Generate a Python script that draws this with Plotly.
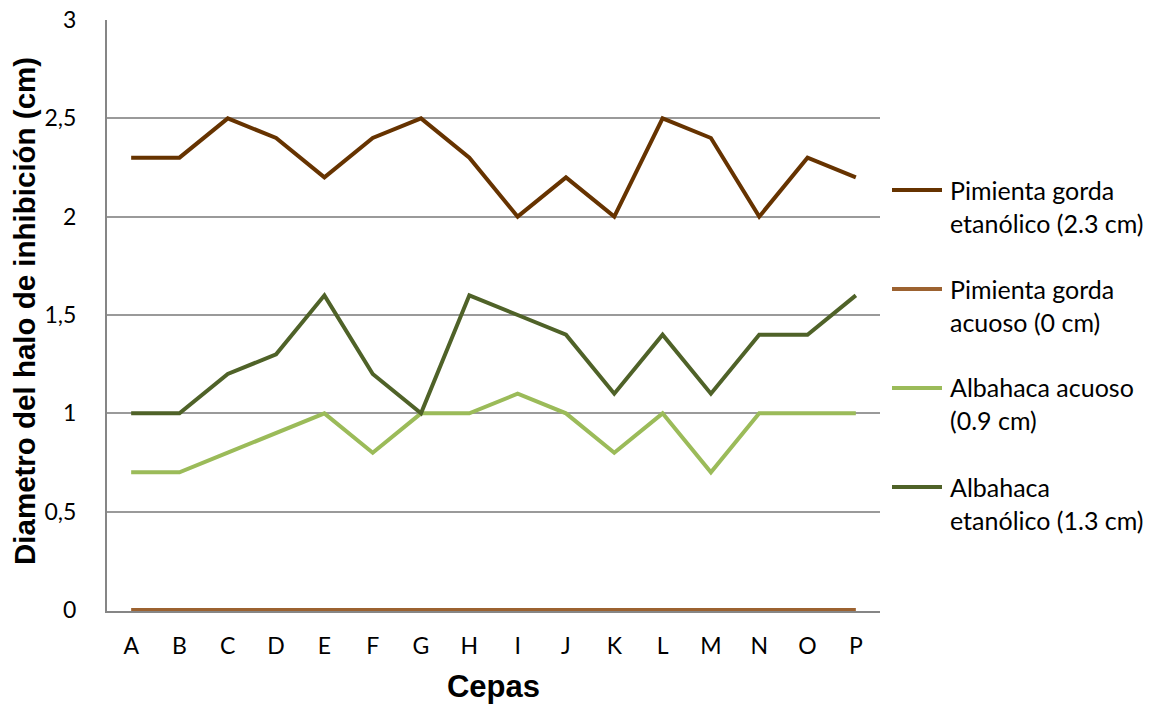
import plotly.graph_objects as go

cepas = list("ABCDEFGHIJKLMNOP")

pimienta_etanolico = [2.3, 2.3, 2.5, 2.4, 2.2, 2.4, 2.5, 2.3, 2.0, 2.2, 2.0, 2.5, 2.4, 2.0, 2.3, 2.2]
pimienta_acuoso = [0] * 16
albahaca_acuoso = [0.7, 0.7, 0.8, 0.9, 1.0, 0.8, 1.0, 1.0, 1.1, 1.0, 0.8, 1.0, 0.7, 1.0, 1.0, 1.0]
albahaca_etanolico = [1.0, 1.0, 1.2, 1.3, 1.6, 1.2, 1.0, 1.6, 1.5, 1.4, 1.1, 1.4, 1.1, 1.4, 1.4, 1.6]

series_names = [
    "Pimienta gorda<br>etanólico (2.3 cm)",
    "Pimienta gorda<br>acuoso (0 cm)",
    "Albahaca acuoso<br>(0.9 cm)",
    "Albahaca<br>etanólico (1.3 cm)",
]
series_values = [pimienta_etanolico, pimienta_acuoso, albahaca_acuoso, albahaca_etanolico]
series_colors = ["#663300", "#9C6230", "#9BBB59", "#4F6228"]

y_ticks = [0, 0.5, 1, 1.5, 2, 2.5, 3]
y_tick_text = ["0", "0,5", "1", "1,5", "2", "2,5", "3"]

W, H = 1149, 705
ML, MR, MT, MB = 107, 269, 20, 94
PW, PH = W - ML - MR, H - MT - MB
Y_MIN = -0.005  # small pad under zero so the zero-valued line is not clipped
Y_MAX = 3


def px_to_paper(xp, yp):
    return (xp - ML) / PW, (H - MB - yp) / PH


font_body = "Lato, 'Open Sans', sans-serif"
font_title = "Arial, 'Liberation Sans', sans-serif"

fig = go.Figure()
for name, vals, color in zip(series_names, series_values, series_colors):
    fig.add_trace(go.Scatter(
        x=cepas, y=vals, name=name, mode="lines",
        line=dict(color=color, width=4),
        cliponaxis=False, showlegend=False,
    ))

# Legend drawn as key lines plus two-line labels at the right of the plot
shapes = []
annotations = []
for i, (name, color) in enumerate(zip(series_names, series_colors)):
    first_line_y = 190 + i * 99
    x0, y0 = px_to_paper(892, first_line_y)
    x1, _ = px_to_paper(942, first_line_y)
    shapes.append(dict(
        type="line", xref="paper", yref="paper",
        x0=x0, x1=x1, y0=y0, y1=y0,
        line=dict(color=color, width=4),
    ))
    tx, ty = px_to_paper(948, first_line_y + 16)
    annotations.append(dict(
        xref="paper", yref="paper", x=tx, y=ty,
        xanchor="left", yanchor="middle", align="left",
        text=name, showarrow=False,
        font=dict(family=font_body, size=25, color="#000000"),
    ))

# Vertical y-axis title
yt_x, yt_y = px_to_paper(24, 311)
annotations.append(dict(
    xref="paper", yref="paper", x=yt_x, y=yt_y,
    xanchor="center", yanchor="middle", textangle=-90,
    text="<b>Diametro del halo de inhibición (cm)</b>", showarrow=False,
    font=dict(family=font_title, size=29.5, color="#000000"),
))

fig.update_layout(
    width=W, height=H,
    margin=dict(l=ML, r=MR, t=MT, b=MB),
    paper_bgcolor="white", plot_bgcolor="white",
    font=dict(family=font_body, size=24, color="#000000"),
    showlegend=False,
    shapes=shapes,
    annotations=annotations,
    xaxis=dict(
        range=[-0.5, 15.5],
        automargin=False,
        showgrid=False,
        showline=True, linecolor="#868686", linewidth=2,
        layer="below traces",
        ticks="", tickfont=dict(family=font_body, size=23),
        ticklabelstandoff=13,
        title=dict(text="<b>Cepas</b>", font=dict(family=font_title, size=31), standoff=18),
    ),
    yaxis=dict(
        range=[Y_MIN, Y_MAX],
        automargin=False,
        tickvals=y_ticks, ticktext=y_tick_text,
        showgrid=True, gridcolor="#9a9a9a", gridwidth=1.5,
        zeroline=False,
        showline=True, linecolor="#868686", linewidth=2,
        layer="below traces",
        ticks="", tickfont=dict(family=font_body, size=23),
        ticklabelstandoff=24,
    ),
)

fig.write_html("out.html")
